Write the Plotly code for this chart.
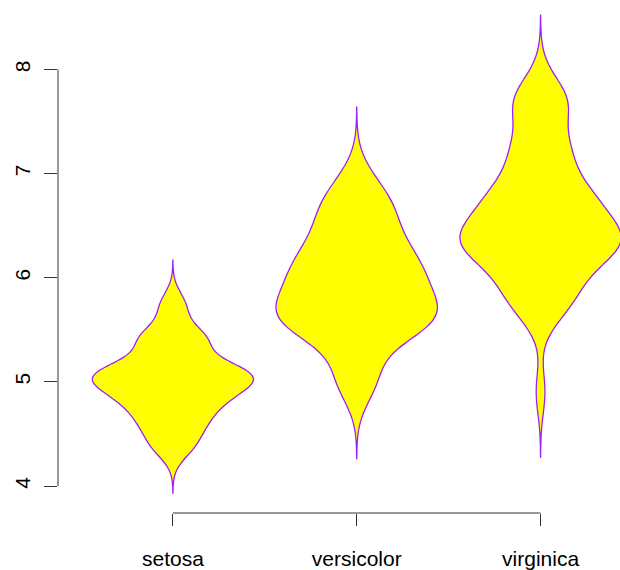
import numpy as np
import plotly.graph_objects as go

species = ["setosa", "versicolor", "virginica"]
setosa = [5.1,4.9,4.7,4.6,5.0,5.4,4.6,5.0,4.4,4.9,5.4,4.8,4.8,4.3,5.8,5.7,5.4,5.1,5.7,5.1,
          5.4,5.1,4.6,5.1,4.8,5.0,5.0,5.2,5.2,4.7,4.8,5.4,5.2,5.5,4.9,5.0,5.5,4.9,4.4,5.1,
          5.0,4.5,4.4,5.0,5.1,4.8,5.1,4.6,5.3,5.0]
versicolor = [7.0,6.4,6.9,5.5,6.5,5.7,6.3,4.9,6.6,5.2,5.0,5.9,6.0,6.1,5.6,6.7,5.6,5.8,6.2,5.6,
              5.9,6.1,6.3,6.1,6.4,6.6,6.8,6.7,6.0,5.7,5.5,5.5,5.8,6.0,5.4,6.0,6.7,6.3,5.6,5.5,
              5.5,6.1,5.8,5.0,5.6,5.7,5.7,6.2,5.1,5.7]
virginica = [6.3,5.8,7.1,6.3,6.5,7.6,4.9,7.3,6.7,7.2,6.5,6.4,6.8,5.7,5.8,6.4,6.5,7.7,7.7,6.0,
             6.9,5.6,7.7,6.3,6.7,7.2,6.2,6.1,6.4,7.2,7.4,7.9,6.4,6.3,6.1,7.7,6.3,6.4,6.0,6.9,
             6.7,6.9,5.8,6.8,6.7,6.7,6.3,6.5,6.2,5.9]
y_ticks = [4, 5, 6, 7, 8]

def bw_nrd0(v):
    v = np.asarray(v, dtype=float)
    q75, q25 = np.percentile(v, [75, 25])
    lo = min(np.std(v, ddof=1), (q75 - q25) / 1.34)
    return 0.9 * lo * len(v) ** (-0.2)

fig = go.Figure()
for name, vals in zip(species, [setosa, versicolor, virginica]):
    bw = bw_nrd0(vals)
    fig.add_trace(go.Violin(
        x=[name] * len(vals), y=vals,
        bandwidth=bw, spanmode="manual",
        span=[min(vals) - 3 * bw, max(vals) + 3 * bw],
        points=False, box_visible=False, meanline_visible=False,
        fillcolor="#FFFF00", opacity=1,
        line=dict(color="#A020F0", width=1.3),
        width=0.877, scalemode="width", showlegend=False,
        hoverinfo="skip",
    ))

px_per_unit = 104.25
y8_px, y4_px = 69.5, 486.5
plot_top_px = 0
plot_bot_px = 513.5
y_hi = 8 + (y8_px - plot_top_px) / px_per_unit
y_lo = 4 - (plot_bot_px - y4_px) / px_per_unit

cat_px = 184.0
left_px, right_px = 57.5, 620
x_lo = 0 - (172.5 - left_px) / cat_px
x_hi = 2 + (right_px - 540.5) / cat_px

fig.update_layout(
    width=620, height=570,
    margin=dict(l=left_px, r=0, t=plot_top_px, b=570 - plot_bot_px, pad=0),
    paper_bgcolor="white", plot_bgcolor="white",
    font=dict(family="Liberation Sans, Arial, sans-serif", size=21, color="black"),
    xaxis=dict(range=[x_lo, x_hi], showgrid=False, zeroline=False, showline=False,
               ticks="outside", ticklen=12, tickwidth=1, tickcolor="#333",
               tickvals=species, ticktext=species, ticklabelstandoff=15),
    yaxis=dict(range=[y_lo, y_hi], showgrid=False, zeroline=False, showline=False,
               ticks="outside", ticklen=13, tickwidth=1, tickcolor="#333",
               tickvals=y_ticks, ticktext=[str(t) for t in y_ticks],
               tickangle=-90, ticklabelstandoff=6),
    violingap=0, violinmode="overlay",
    shapes=[
        dict(type="line", xref="x", yref="paper", x0=species[0], x1=species[-1],
             y0=0, y1=0, line=dict(color="#333", width=1)),
        dict(type="line", xref="paper", yref="y", x0=0, x1=0,
             y0=y_ticks[0], y1=y_ticks[-1], line=dict(color="#333", width=1)),
    ],
)

fig.write_html("out.html")
